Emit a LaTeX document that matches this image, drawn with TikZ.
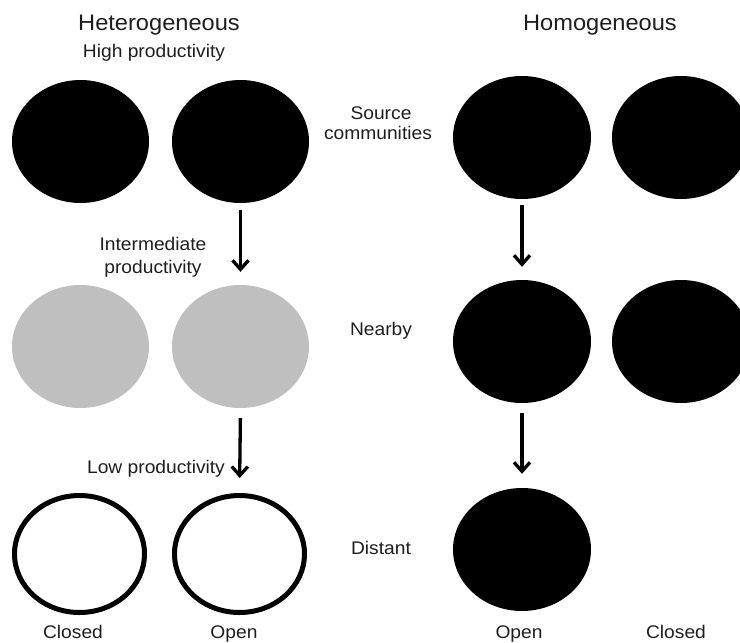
\documentclass[tikz,border=0pt]{standalone}
\usepackage{fontspec}
\setmainfont{Liberation Sans}[FakeStretch=1.05]
\usetikzlibrary{shapes.geometric,arrows.meta}
\definecolor{midgrey}{RGB}{191,191,191}
\definecolor{txt}{RGB}{30,30,30}
\tikzset{
  blob/.style={ellipse, inner sep=0pt, minimum width=137pt, minimum height=123pt},
  blackblob/.style={blob, fill=black},
  greyblob/.style={blob, fill=midgrey},
  ringblob/.style={ellipse, inner sep=0pt, minimum width=130pt, minimum height=117pt, draw=black, line width=5pt, fill=white},
  lbl/.style={anchor=base, inner sep=0pt, text=txt, font=\fontsize{18.3pt}{21pt}\selectfont},
  ttl/.style={anchor=base, inner sep=0pt, text=txt, font=\fontsize{22.5pt}{25pt}\selectfont},
  arr/.style={line width=3.3pt, -{Straight Barb[length=9pt,width=16pt]}}
}
\begin{document}
\begin{tikzpicture}[x=1pt,y=-1pt]
\useasboundingbox (0,0) rectangle (740,643);
\clip (0,0) rectangle (740,643);
% titles
\node[ttl] (tHet) at (159,30) {Heterogeneous};
\node[ttl] (tHom) at (600,30) {Homogeneous};
% heterogeneous side
\node[lbl] (lHigh) at (154,57) {High productivity};
\node[blackblob] (h11) at (80.5,141.5) {};
\node[blackblob] (h12) at (240.5,141.5) {};
\node[lbl] (lInt1) at (153,250) {Intermediate};
\node[lbl] (lInt2) at (153,273) {productivity};
\node[greyblob] (h21) at (80.5,346.5) {};
\node[greyblob] (h22) at (240.5,346.5) {};
\node[lbl] (lLow) at (156,473) {Low productivity};
\node[ringblob] (h31) at (79.5,554) {};
\node[ringblob] (h32) at (239.5,554) {};
\node[lbl] (lClosedA) at (73,638) {Closed};
\node[lbl] (lOpenA) at (234,638) {Open};
\draw[arr, shorten <=7pt, shorten >=13pt] (h12.south) -- (h22.north);
\draw[arr, shorten <=10pt, shorten >=15pt] (h22.south) -- (h32.north);
% middle labels
\node[lbl] (mSrc1) at (381,119) {Source};
\node[lbl] (mSrc2) at (378,139) {communities};
\node[lbl] (mNear) at (381,335) {Nearby};
\node[lbl] (mDist) at (381,554) {Distant};
% homogeneous side
\node[blackblob, minimum width=138pt] (g11) at (522,137.5) {};
\node[blackblob, minimum width=138pt] (g12) at (681,137.5) {};
\node[blackblob, minimum width=138pt] (g21) at (522,341.5) {};
\node[blackblob, minimum width=138pt] (g22) at (681,341.5) {};
\node[blackblob, minimum width=138pt] (g31) at (522,549.5) {};
\node[lbl] (lOpenB) at (519,638) {Open};
\node[lbl] (lClosedB) at (676,638) {Closed};
\draw[arr, shorten <=6pt, shorten >=13pt] (g11.south) -- (g21.north);
\draw[arr, shorten <=10pt, shorten >=14pt] (g21.south) -- (g31.north);
\end{tikzpicture}
\end{document}
